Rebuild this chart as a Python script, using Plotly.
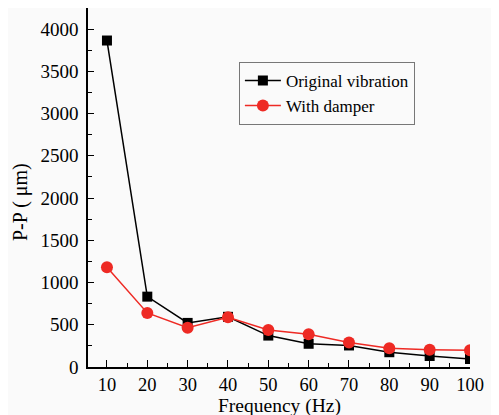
import plotly.graph_objects as go

freq = [10, 20, 30, 40, 50, 60, 70, 80, 90, 100]
original = [3865, 833, 522, 594, 372, 275, 255, 175, 130, 95]
damper = [1181, 640, 466, 588, 438, 387, 290, 221, 205, 198]
minor_x = [15, 25, 35, 45, 55, 65, 75, 85, 95]

font_family = "Liberation Serif"

fig = go.Figure()
fig.add_trace(go.Scatter(
    x=freq, y=original, name="Original vibration", mode="lines+markers",
    line=dict(color="black", width=1.5),
    marker=dict(symbol="square", size=10, color="black"),
))
fig.add_trace(go.Scatter(
    x=freq, y=damper, name="With damper", mode="lines+markers",
    line=dict(color="#ee2a24", width=1.5),
    marker=dict(symbol="circle", size=12, color="#ee2a24"),
))

fig.update_layout(
    width=491, height=407,
    margin=dict(l=80, r=29, t=0, b=48, autoexpand=False),
    paper_bgcolor="#fafafa", plot_bgcolor="#fafafa",
    font=dict(family=font_family, size=18.5, color="black"),
    showlegend=True,
    legend=dict(
        x=0.395, y=0.85, xanchor="left", yanchor="top",
        bgcolor="#fafafa", bordercolor="#777777", borderwidth=1,
        font=dict(family=font_family, size=17, color="black"),
        tracegroupgap=0, itemwidth=36,
    ),
    annotations=[
        dict(text="P-P ( μm)", xref="paper", yref="paper", x=-0.175, y=0.46,
             xanchor="center", yanchor="middle", textangle=-90, showarrow=False,
             font=dict(family=font_family, size=20, color="black")),
        dict(text="Frequency (Hz)", xref="paper", yref="paper", x=0.5, y=-0.108,
             xanchor="center", yanchor="middle", showarrow=False,
             font=dict(family=font_family, size=19.5, color="black")),
    ],
)
fig.update_xaxes(
    range=[5.3, 100], tickmode="array", tickvals=freq, automargin=False,
    ticks="inside", ticklen=7, tickwidth=1.3, tickcolor="black",
    showline=True, linecolor="black", linewidth=1.5, mirror=False,
    showgrid=False, zeroline=False,
    minor=dict(tickmode="array", tickvals=minor_x,
               ticks="inside", ticklen=4, tickcolor="black", showgrid=False),
    tickfont=dict(family=font_family, size=18.5),
)
fig.update_yaxes(
    range=[0, 4250], tickmode="linear", tick0=0, dtick=500, automargin=False,
    ticks="inside", ticklen=6, tickwidth=1.3, tickcolor="black",
    showline=True, linecolor="black", linewidth=1.5, mirror=False,
    showgrid=False, zeroline=False, ticklabelstandoff=4,
    minor=dict(dtick=250, ticks="inside", ticklen=4, tickcolor="black", showgrid=False),
    tickfont=dict(family=font_family, size=19),
)

fig.write_html("out.html")
